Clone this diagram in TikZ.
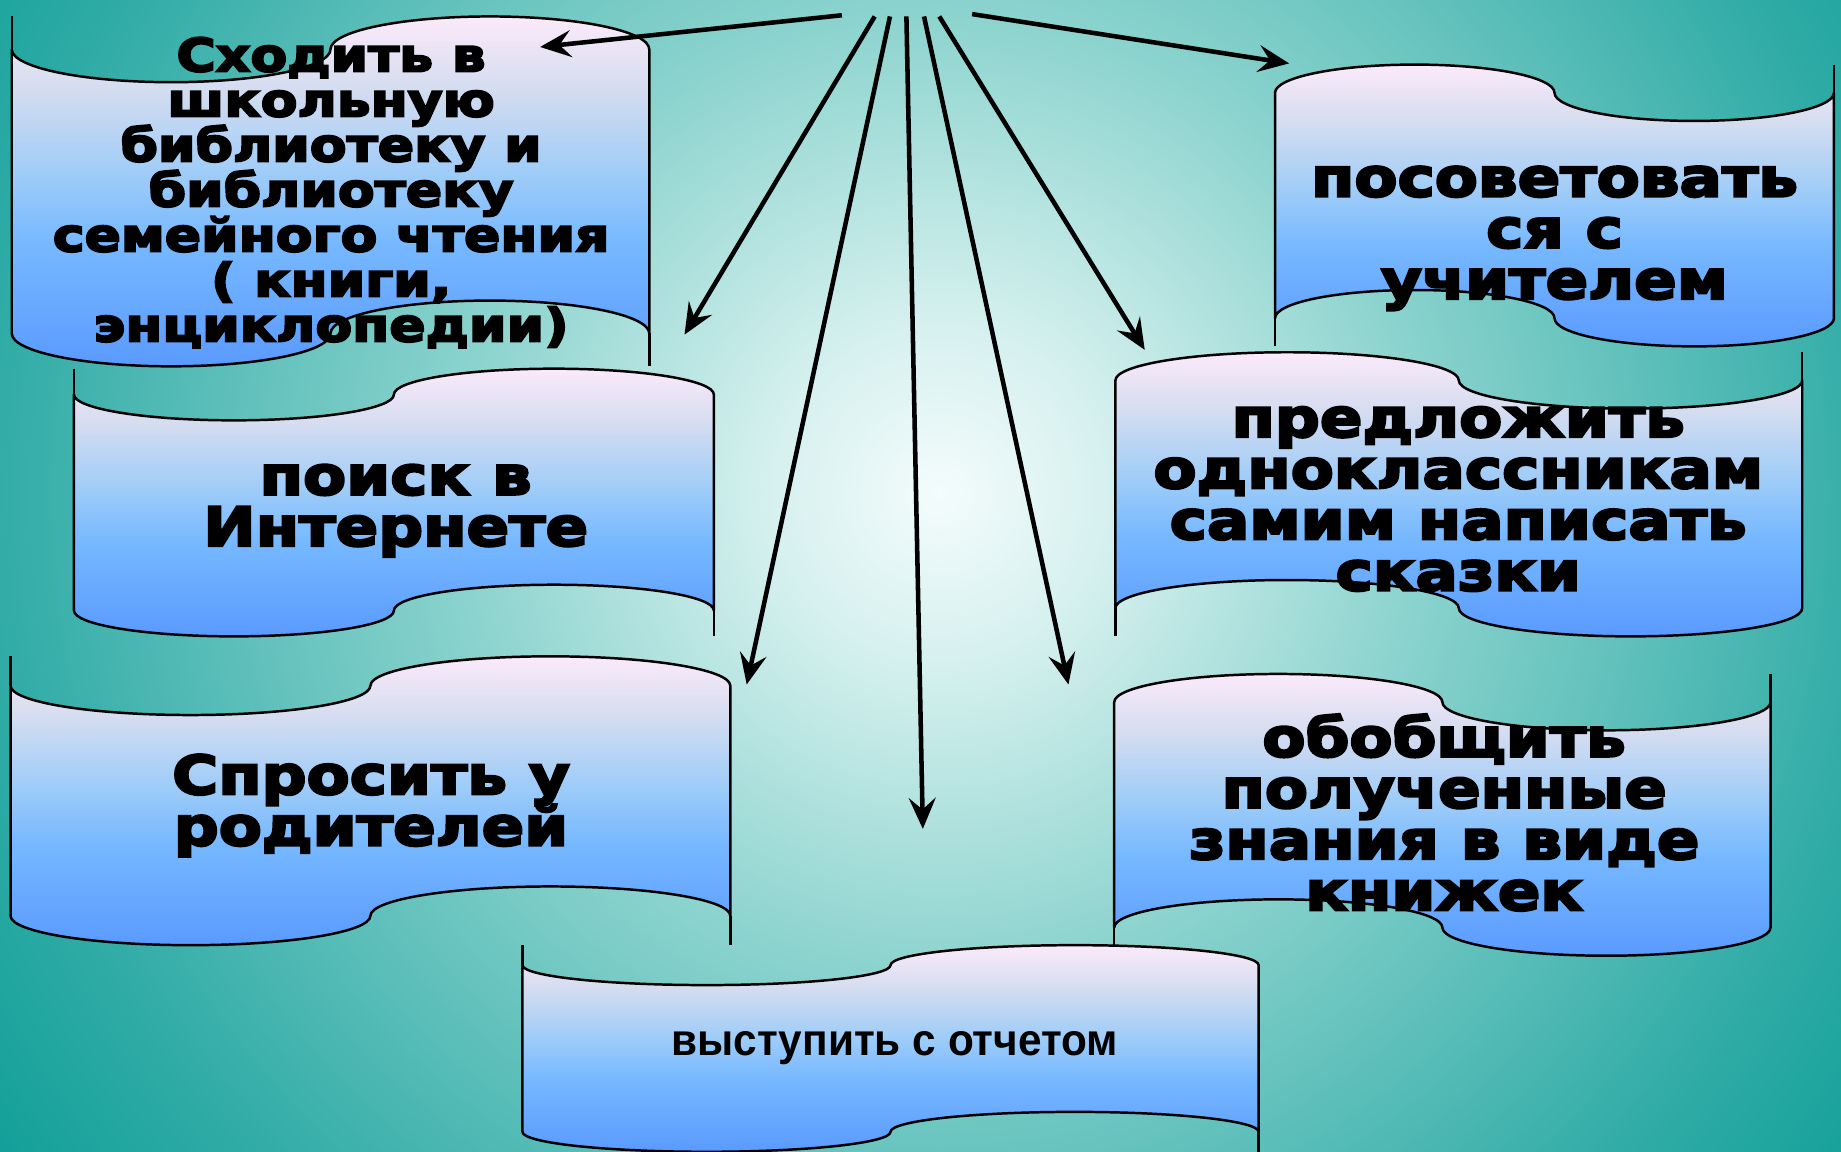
\documentclass[tikz,border=0pt]{standalone}
\usepackage{fontspec}
\usetikzlibrary{arrows.meta}
\newfontfamily\heavy{DejaVu Sans}[UprightFont={* Bold},FakeBold=4.5,FakeStretch=1.17]
\newfontfamily\plainbold{Liberation Sans}[UprightFont={* Bold},FakeStretch=0.95]
\newcommand\tightlines{\setlength{\lineskiplimit}{-100pt}}
\definecolor{bg0}{RGB}{244,252,252}
\definecolor{bg1}{RGB}{212,240,238}
\definecolor{bg2}{RGB}{142,212,207}
\definecolor{bg3}{RGB}{50,172,167}
\definecolor{bg4}{RGB}{15,158,152}
\definecolor{bx0}{RGB}{90,154,255}
\definecolor{bx1}{RGB}{118,184,255}
\definecolor{bx2}{RGB}{158,204,248}
\definecolor{bx3}{RGB}{214,221,240}
\definecolor{bx4}{RGB}{251,234,250}
% TikZ maps a path's bounding box onto the central 50bp of a 100bp shading
\pgfdeclareradialshading{bgshade}{\pgfpoint{0bp}{0bp}}{color(0bp)=(bg0); color(3.75bp)=(bg1); color(10bp)=(bg2); color(20bp)=(bg3); color(25bp)=(bg4); color(50bp)=(bg4)}
\pgfdeclareverticalshading{boxshade}{100bp}{color(0bp)=(bx0); color(25bp)=(bx0); color(42.5bp)=(bx1); color(52.5bp)=(bx2); color(65bp)=(bx3); color(75bp)=(bx4); color(100bp)=(bx4)}
% #1 L, #2 R, #3 Y1 (top wave level at ends), #4 amplitude, #5 height, #6 orientation (1 or -1)
\newcommand\banner[6]{%
 \pgfmathsetmacro\bL{#1}%
 \pgfmathsetmacro\bR{#2}%
 \pgfmathsetmacro\bq{(#2-#1)/4}%
 \pgfmathsetmacro\bM{(#1+#2)/2}%
 \pgfmathsetmacro\bqa{\bL+\bq}%
 \pgfmathsetmacro\bqb{\bM+\bq}%
 \pgfmathsetmacro\bk{0.5523*\bq}%
 \pgfmathsetmacro\bYa{#3}%
 \pgfmathsetmacro\bYb{#3+#5}%
 \pgfmathsetmacro\bd{#6*#4}%
 \pgfmathsetmacro\bdk{0.5523*\bd}%
 \pgfmathsetmacro\bYaP{\bYa+\bd}\pgfmathsetmacro\bYaM{\bYa-\bd}%
 \pgfmathsetmacro\bYaPk{\bYa+\bdk}\pgfmathsetmacro\bYaMk{\bYa-\bdk}%
 \pgfmathsetmacro\bYbP{\bYb+\bd}\pgfmathsetmacro\bYbM{\bYb-\bd}%
 \pgfmathsetmacro\bYbPk{\bYb+\bdk}\pgfmathsetmacro\bYbMk{\bYb-\bdk}%
 \pgfmathsetmacro\bxa{\bqa-\bk}\pgfmathsetmacro\bxb{\bqa+\bk}%
 \pgfmathsetmacro\bxc{\bqb-\bk}\pgfmathsetmacro\bxd{\bqb+\bk}%
 \path[bannerline, shade, shading=boxshade]
  (\bL,\bYa) .. controls (\bL,\bYaPk) and (\bxa,\bYaP) .. (\bqa,\bYaP)
  .. controls (\bxb,\bYaP) and (\bM,\bYaPk) .. (\bM,\bYa)
  .. controls (\bM,\bYaMk) and (\bxc,\bYaM) .. (\bqb,\bYaM)
  .. controls (\bxd,\bYaM) and (\bR,\bYaMk) .. (\bR,\bYa)
  -- (\bR,\bYb)
  .. controls (\bR,\bYbMk) and (\bxd,\bYbM) .. (\bqb,\bYbM)
  .. controls (\bxc,\bYbM) and (\bM,\bYbMk) .. (\bM,\bYb)
  .. controls (\bM,\bYbPk) and (\bxb,\bYbP) .. (\bqa,\bYbP)
  .. controls (\bxa,\bYbP) and (\bL,\bYbPk) .. (\bL,\bYb) -- cycle;
 \ifnum#6>0
   \draw[bannerline] (\bL,\bYa) -- (\bL,\bYa-#4);
   \draw[bannerline] (\bR,\bYb) -- (\bR,\bYb+#4);
 \else
   \draw[bannerline] (\bR,\bYa) -- (\bR,\bYa-#4);
   \draw[bannerline] (\bL,\bYb) -- (\bL,\bYb+#4);
 \fi
}
\tikzset{
  bannerline/.style={draw=black, line width=0.6pt, line join=round},
  heavytext/.style={align=center, font={\heavy\fontsize{13}{12.4}\selectfont\tightlines}, text=black, inner sep=0pt},
  smallheavy/.style={align=center, font={\heavy\fontsize{11.1}{10.9}\selectfont\tightlines}, text=black, inner sep=0pt},
  plaintext/.style={align=center, font={\plainbold\fontsize{10.8}{12}\selectfont}, text=black, inner sep=0pt},
  arr/.style={draw=black, line width=1.1pt, -{Stealth[length=7.5pt,width=6.5pt,inset=2.8pt]}}
}
\begin{document}
\begin{tikzpicture}[x=0.01cm, y=-0.01cm]
\useasboundingbox (0,0) rectangle (1568,981);
\begin{scope}
  \clip (0,0) rectangle (1568,981);
  \shade[shading=bgshade] (-200,-580) rectangle (1800,1420);
\end{scope}

\banner{10}{553}{42}{28}{242}{1}
\node[smallheavy] (b1) at (282,164) {Сходить в\\школьную\\библиотеку и\\библиотеку\\семейного чтения\\( книги,\\энциклопедии)};

\banner{63}{608}{336}{22}{184}{1}
\node[heavytext] (b2) at (337,435) {поиск в\\Интернете};

\banner{9}{622}{584}{25}{196}{1}
\node[heavytext] (b3) at (316,686) {Спросить у\\родителей};

\banner{1086}{1562}{79}{24}{192}{-1}
\node[heavytext] (b5) at (1324,203) {посоветовать\\ся с\\учителем};

\banner{950}{1535}{324}{24}{194}{-1}
\node[heavytext] (b6) at (1242,425) {предложить\\одноклассникам\\самим  написать\\сказки};

\banner{949}{1508}{598}{24}{192}{-1}
\node[heavytext] (b7) at (1230,692) {обобщить\\полученные\\знания в виде\\книжек};

\banner{445}{1072}{822}{17}{142}{1}
\node[plaintext] (b4) at (762,893) {выступить с отчетом};

\coordinate (s1) at (717,13);  \coordinate (e1) at (460,40);
\coordinate (s2) at (745,14);  \coordinate (e2) at (583,285);
\coordinate (s3) at (758,14);  \coordinate (e3) at (636,583);
\coordinate (s4) at (772,14);  \coordinate (e4) at (786,706);
\coordinate (s5) at (787,14);  \coordinate (e5) at (910,583);
\coordinate (s6) at (800,14);  \coordinate (e6) at (975,298);
\coordinate (s7) at (828,12);  \coordinate (e7) at (1098,54);
\foreach \i in {1,...,7} \draw[arr] (s\i) -- (e\i);
\end{tikzpicture}
\end{document}
